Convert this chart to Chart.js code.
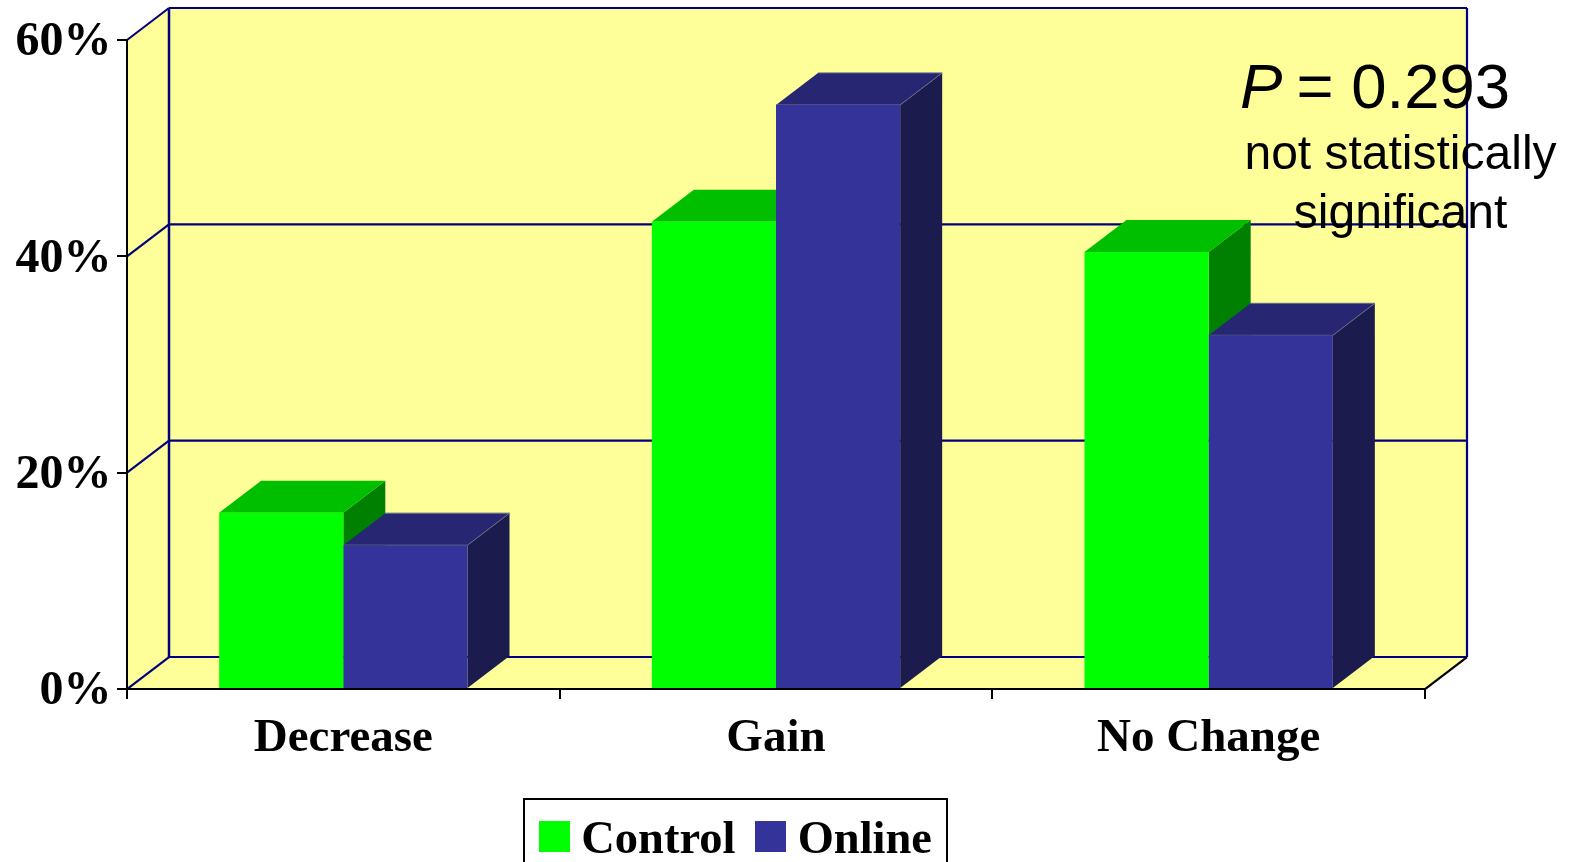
<!DOCTYPE html>
<html>
<head>
<meta charset="utf-8">
<title>Weight change by group</title>
<script src="https://cdn.jsdelivr.net/npm/chart.js@4/dist/chart.umd.js"></script>
<style>
  html, body { margin: 0; padding: 0; background: #fff; overflow: hidden; }
  canvas { display: block; }
</style>
</head>
<body>
<canvas id="chart" width="1574" height="862"></canvas>
<script>
// Outcome categories and the share of each group in them (percent).
const categories = ['Decrease', 'Gain', 'No Change'];
const controlValues = [16.3, 43.2, 40.4];
const onlineValues = [13.3, 54.0, 32.7];
const axisMax = 60;
const axisStep = 20;

const seriesNames = ['Control', 'Online'];
const pValueLabel = ' = 0.293';
const noteLines = ['not statistically', 'significant'];

// Palette for the pseudo-3D boxes: front, top and side faces.
const faces = [
  { front: '#00FF00', top: '#00BE00', side: '#008000', edge: null },
  { front: '#333399', top: '#262673', side: '#1B1B4D', edge: '#6A6A8A' }
];
const wallColor = '#FFFF99';
const gridColor = '#000080';
const axisColor = '#000000';

// Depth of the fake perspective, in pixels.
const depthX = 42;
const depthY = 32;

const serif = '"Liberation Serif", "Times New Roman", serif';
const sans = '"Liberation Sans", Arial, sans-serif';

function polygon(ctx, points, fill, stroke, lineWidth) {
  ctx.beginPath();
  points.forEach(([x, y], i) => (i ? ctx.lineTo(x, y) : ctx.moveTo(x, y)));
  ctx.closePath();
  if (fill) { ctx.fillStyle = fill; ctx.fill(); }
  if (stroke) { ctx.strokeStyle = stroke; ctx.lineWidth = lineWidth; ctx.stroke(); }
}

function segment(ctx, x0, y0, x1, y1, color, width) {
  ctx.beginPath();
  ctx.moveTo(x0, y0);
  ctx.lineTo(x1, y1);
  ctx.strokeStyle = color;
  ctx.lineWidth = width;
  ctx.stroke();
}

// Back wall, side wall, floor and the gridlines that wrap around them.
const roomPlugin = {
  id: 'room',
  beforeDraw(chart) {
    const { ctx, chartArea: a, scales: { y } } = chart;
    const { left: l, right: r, top: t, bottom: b } = a;
    ctx.save();
    polygon(ctx, [[l, t], [l + depthX, t - depthY], [r + depthX, t - depthY], [r + depthX, b - depthY], [r, b], [l, b]], wallColor);
    y.ticks.forEach(tick => {
      const py = y.getPixelForValue(tick.value);
      segment(ctx, l, py, l + depthX, py - depthY, gridColor, 2.2);
      segment(ctx, l + depthX, py - depthY, r + depthX, py - depthY, gridColor, 2.2);
    });
    segment(ctx, l + depthX, t - depthY, l + depthX, b - depthY, gridColor, 2.5);
    segment(ctx, r + depthX, t - depthY, r + depthX, b - depthY, gridColor, 2.2);
    segment(ctx, r, b, r + depthX, b - depthY, axisColor, 2.2);
    ctx.restore();
  }
};

// Top and side faces of every bar, painted behind the library's front faces.
const boxPlugin = {
  id: 'boxes',
  beforeDatasetsDraw(chart) {
    const ctx = chart.ctx;
    ctx.save();
    categories.forEach((_, index) => {
      chart.data.datasets.forEach((_, dsIndex) => {
        const bar = chart.getDatasetMeta(dsIndex).data[index];
        const face = faces[dsIndex];
        const x0 = bar.x - bar.width / 2;
        const x1 = bar.x + bar.width / 2;
        const top = bar.y;
        const base = bar.base;
        polygon(ctx, [[x1, top], [x1 + depthX, top - depthY], [x1 + depthX, base - depthY], [x1, base]], face.side);
        polygon(ctx, [[x0, top], [x1, top], [x1 + depthX, top - depthY], [x0 + depthX, top - depthY]], face.top);
        if (face.edge) {
          segment(ctx, x0, top, x1, top, face.edge, 1);
          segment(ctx, x1, top, x1 + depthX, top - depthY, face.edge, 1);
          segment(ctx, x0 + depthX, top - depthY, x1 + depthX, top - depthY, face.edge, 1);
        }
      });
    });
    ctx.restore();
  }
};

// Statistical annotation in the upper right, and the legend frame.
const notePlugin = {
  id: 'note',
  afterDraw(chart) {
    const ctx = chart.ctx;
    ctx.save();
    ctx.fillStyle = '#000';
    ctx.textBaseline = 'alphabetic';
    ctx.textAlign = 'left';
    ctx.font = 'italic 63.5px ' + sans;
    ctx.fillText('P', 1240, 107.5);
    const pWidth = ctx.measureText('P').width;
    ctx.font = '63.5px ' + sans;
    ctx.fillText(pValueLabel, 1240 + pWidth - 3.5, 107.5);
    ctx.textAlign = 'center';
    ctx.font = '48px ' + sans;
    ctx.fillText(noteLines[0], 1400.5, 168.5);
    ctx.fillText(noteLines[1], 1400.5, 227.5);
    ctx.strokeStyle = axisColor;
    ctx.lineWidth = 2;
    ctx.strokeRect(524, 799, 423, 80);
    ctx.restore();
  }
};

// Lays the legend out as one row at a fixed spot beneath the axis labels.
const legendPlacement = {
  id: 'legendPlacement',
  beforeLayout(chart) {
    chart.legend.isHorizontal = () => true;
  },
  afterLayout(chart) {
    const legend = chart.legend;
    const h = legend.height;
    legend.left = 519;
    legend.right = chart.width;
    legend.top = 785.25;
    legend.bottom = 785.25 + h;
  }
};

// Legend marker: a square sitting slightly above the text's centre line.
function swatch(color) {
  const c = document.createElement('canvas');
  c.width = 31;
  c.height = 39;
  const g = c.getContext('2d');
  g.fillStyle = color;
  g.fillRect(0, 0, 31, 31);
  return c;
}

new Chart(document.getElementById('chart'), {
  type: 'bar',
  data: {
    labels: categories,
    datasets: [
      { label: seriesNames[0], data: controlValues, backgroundColor: faces[0].front, borderWidth: 0 },
      { label: seriesNames[1], data: onlineValues, backgroundColor: faces[1].front, borderWidth: 0 }
    ]
  },
  plugins: [roomPlugin, boxPlugin, notePlugin, legendPlacement],
  options: {
    responsive: false,
    animation: false,
    layout: { padding: { left: 0, top: 40, right: 149, bottom: 0 } },
    datasets: { bar: { categoryPercentage: 0.574, barPercentage: 1 } },
    scales: {
      x: {
        z: 1,
        afterFit(scale) { scale.height = 173; },
        border: { color: axisColor, width: 2 },
        grid: { drawOnChartArea: false, color: axisColor, tickColor: axisColor, tickLength: 10, lineWidth: 2 },
        ticks: { color: '#000', padding: 12, maxRotation: 0, font: { family: serif, size: 47, weight: 'bold' } }
      },
      y: {
        min: 0,
        max: axisMax,
        afterFit(scale) { scale.width = 127; },
        border: { color: axisColor, width: 2 },
        grid: { drawOnChartArea: false, color: axisColor, tickColor: axisColor, tickLength: 10, lineWidth: 2 },
        ticks: {
          stepSize: axisStep,
          color: '#000',
          padding: 5.5,
          labelOffset: 3,
          callback: v => v + '%',
          font: { family: serif, size: 48, weight: 'bold' }
        }
      }
    },
    plugins: {
      tooltip: { enabled: false },
      title: { display: false },
      legend: {
        position: 'chartArea',
        align: 'start',
        labels: {
          usePointStyle: true,
          pointStyleWidth: 7,
          padding: 32,
          color: '#000',
          font: { family: serif, size: 46.5, weight: 'bold' },
          generateLabels(chart) {
            return Chart.defaults.plugins.legend.labels.generateLabels(chart).map((item, i) => {
              item.pointStyle = swatch(faces[i].front);
              return item;
            });
          }
        }
      }
    }
  }
});
</script>
</body>
</html>
